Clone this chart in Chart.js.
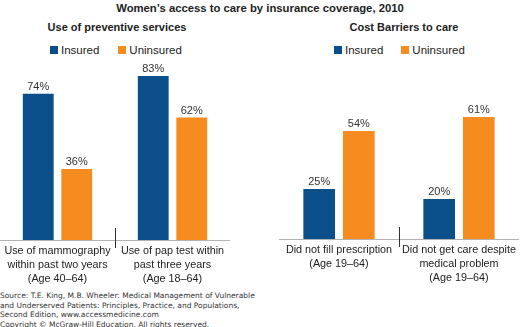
<!DOCTYPE html>
<html>
<head>
<meta charset="utf-8">
<script src="https://cdn.jsdelivr.net/npm/chart.js@4.4.0/dist/chart.umd.min.js"></script>
<style>
  body { margin: 0; background: #fff; font-family: "Liberation Sans", Arial, sans-serif; color: #222; }
  #wrap { position: relative; width: 520px; height: 327px; overflow: hidden; }
  .abs { position: absolute; white-space: nowrap; }
  .title { font-weight: bold; font-size: 11.3px; }
  .sub { font-weight: bold; font-size: 11px; }
  .leg { font-size: 11.5px; line-height: 12px; }
  .sw { display: inline-block; width: 8px; height: 8px; margin-right: 3px; vertical-align: -0px; }
  .source { font-family: "DejaVu Sans", Verdana, sans-serif; font-size: 7.5px; line-height: 9.5px; color: #333; }
</style>
</head>
<body>
<div id="wrap">
  <div class="abs title" style="left:0;width:520px;text-align:center;top:2px;">Women’s access to care by insurance coverage, 2010</div>
  <div class="abs sub" style="left:17px;width:200px;text-align:center;top:21px;">Use of preventive services</div>
  <div class="abs sub" style="left:304px;width:200px;text-align:center;top:21px;">Cost Barriers to care</div>
  <div class="abs leg" id="legLeft" style="left:50px;top:44px;"></div>
  <div class="abs leg" id="legRight" style="left:334px;top:44px;"></div>
  <div class="abs" style="left:0;top:60px;"><canvas id="left" width="230" height="230"></canvas></div>
  <div class="abs" style="left:279px;top:60px;"><canvas id="right" width="241" height="229"></canvas></div>
  <div class="abs source" style="left:0;top:291px;">Source: T.E. King, M.B. Wheeler: Medical Management of Vulnerable<br>and Underserved Patients: Principles, Practice, and Populations,<br>Second Edition, www.accessmedicine.com<br>Copyright © McGraw-Hill Education. All rights reserved.</div>
</div>
<script>
// data
const seriesNames = ['Insured', 'Uninsured'];
const seriesColors = ['#0a4f8a', '#f68b1f'];

const preventiveLabels = [
  ['Use of mammography', 'within past two years', '(Age 40–64)'],
  ['Use of pap test within', 'past three years', '(Age 18–64)']
];
const preventiveInsured = [74, 83];
const preventiveUninsured = [36, 62];

const costLabels = [
  ['Did not fill prescription', '(Age 19–64)'],
  ['Did not get care despite', 'medical problem', '(Age 19–64)']
];
const costInsured = [25, 20];
const costUninsured = [54, 61];

// percent labels above each bar
const valueLabels = {
  id: 'valueLabels',
  afterDatasetsDraw(chart) {
    const ctx = chart.ctx;
    ctx.save();
    ctx.font = '11px "Liberation Sans", Arial, sans-serif';
    ctx.fillStyle = '#333';
    ctx.textAlign = 'center';
    ctx.textBaseline = 'alphabetic';
    chart.data.datasets.forEach((ds, i) => {
      chart.getDatasetMeta(i).data.forEach((bar, j) => {
        ctx.fillText(ds.data[j] + '%', bar.x, bar.y - 4);
      });
    });
    ctx.restore();
  }
};

// small divider tick between the two categories
const divider = {
  id: 'divider',
  afterDraw(chart) {
    const x = chart.scales.x;
    const mid = (x.getPixelForValue(0) + x.getPixelForValue(1)) / 2;
    const base = chart.chartArea.bottom;
    const ctx = chart.ctx;
    ctx.save();
    ctx.strokeStyle = '#333';
    ctx.lineWidth = 1;
    ctx.beginPath();
    ctx.moveTo(Math.round(mid) + 0.5, base - 12);
    ctx.lineTo(Math.round(mid) + 0.5, base + 8);
    ctx.stroke();
    ctx.restore();
  }
};

function makeChart(id, labels, ins, unins, yMax, catPct) {
  new Chart(document.getElementById(id), {
    type: 'bar',
    data: {
      labels: labels,
      datasets: [
        { label: seriesNames[0], data: ins, backgroundColor: seriesColors[0] },
        { label: seriesNames[1], data: unins, backgroundColor: seriesColors[1] }
      ]
    },
    options: {
      responsive: false,
      animation: false,
      layout: { padding: 0 },
      datasets: { bar: { categoryPercentage: catPct, barPercentage: 0.8 } },
      plugins: { legend: { display: false }, tooltip: { enabled: false } },
      scales: {
        x: {
          grid: { display: false, drawTicks: false },
          border: { display: true, color: '#b3b3b3', width: 1 },
          ticks: {
            padding: 4,
            color: '#222',
            maxRotation: 0,
            autoSkip: false,
            font: { family: '"Liberation Sans", Arial, sans-serif', size: 10.8, lineHeight: 1.28 }
          },
          afterFit: s => { s.height = 50; }
        },
        y: { display: false, min: 0, max: yMax }
      }
    },
    plugins: [valueLabels, divider]
  });
}

makeChart('left', preventiveLabels, preventiveInsured, preventiveUninsured, 180 / 1.975, 0.67);
makeChart('right', costLabels, costInsured, costUninsured, 179 / 2.0, 0.66);

function legendHtml(gap) {
  return seriesNames.map((n, i) =>
    '<span style="margin-right:' + (i === 0 ? gap : 0) + 'px"><span class="sw" style="background:' +
    seriesColors[i] + '"></span>' + n + '</span>').join('');
}
document.getElementById('legLeft').innerHTML = legendHtml(19);
document.getElementById('legRight').innerHTML = legendHtml(18);
</script>
</body>
</html>
